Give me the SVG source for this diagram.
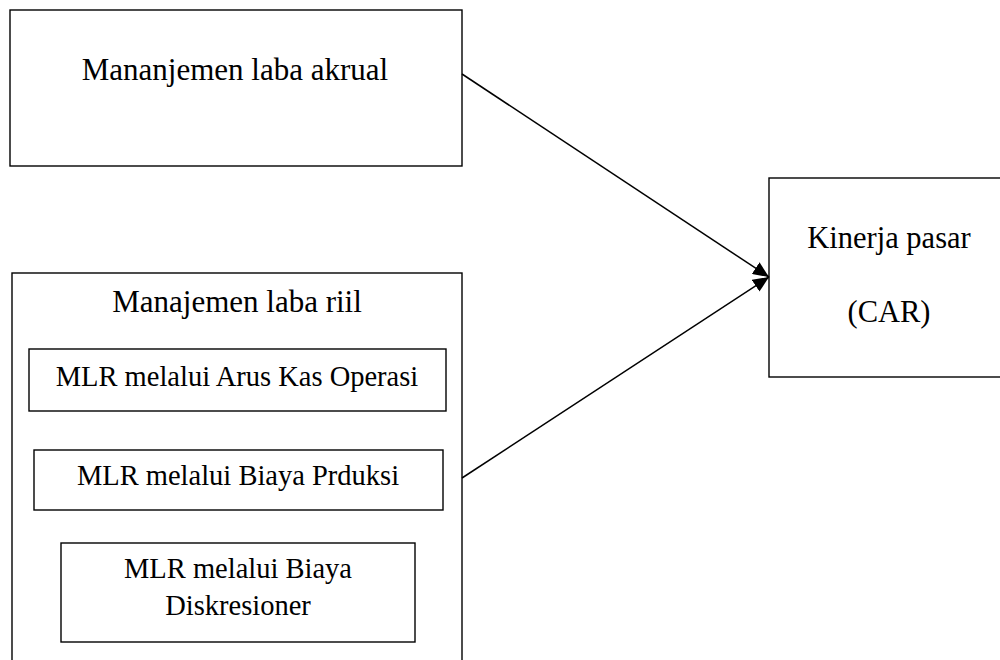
<svg xmlns="http://www.w3.org/2000/svg" width="1000" height="660" viewBox="0 0 1000 660">
  <style>
    .box { fill: #ffffff; stroke: #000000; stroke-width: 1.4; }
    .hdr { font-family: "Liberation Serif", "Times New Roman", serif; font-size: 31px; fill: #000000; text-anchor: middle; }
    .sub { font-family: "Liberation Serif", "Times New Roman", serif; font-size: 28.5px; fill: #000000; text-anchor: middle; }
    .edge { stroke: #000000; stroke-width: 1.5; fill: none; }
  </style>
  <defs>
    <marker id="arrow" markerUnits="userSpaceOnUse" markerWidth="18" markerHeight="14" refX="16" refY="7" orient="auto">
      <path d="M0,0 L16,7 L0,14 Z" fill="#000000"/>
    </marker>
  </defs>
  <rect width="1000" height="660" fill="#ffffff"/>

  <g id="node-akrual">
    <rect class="box" x="10" y="10" width="452" height="156"/>
    <text class="hdr" x="235" y="80">Mananjemen laba akrual</text>
  </g>

  <g id="node-riil">
    <rect class="box" x="12" y="273" width="450" height="400"/>
    <text class="hdr" x="237" y="312">Manajemen laba riil</text>
  </g>

  <g id="node-aruskas">
    <rect class="box" x="29" y="349" width="417" height="62"/>
    <text class="sub" x="237" y="386">MLR melalui Arus Kas Operasi</text>
  </g>

  <g id="node-produksi">
    <rect class="box" x="34" y="450" width="409" height="60"/>
    <text class="sub" x="238" y="485">MLR melalui Biaya Prduksi</text>
  </g>

  <g id="node-diskresioner">
    <rect class="box" x="61" y="543" width="354" height="99"/>
    <text class="sub" x="238" y="578">MLR melalui Biaya</text>
    <text class="sub" x="238" y="615">Diskresioner</text>
  </g>

  <g id="node-kinerja">
    <rect class="box" x="769" y="178" width="240" height="199"/>
    <text class="hdr" x="889" y="248" style="font-size:30.5px">Kinerja pasar</text>
    <text class="hdr" x="889" y="322" style="font-size:30.5px">(CAR)</text>
  </g>

  <g id="connectors">
    <line class="edge" x1="462" y1="74" x2="769" y2="277" marker-end="url(#arrow)"/>
    <line class="edge" x1="462" y1="478" x2="769" y2="277" marker-end="url(#arrow)"/>
  </g>
</svg>
